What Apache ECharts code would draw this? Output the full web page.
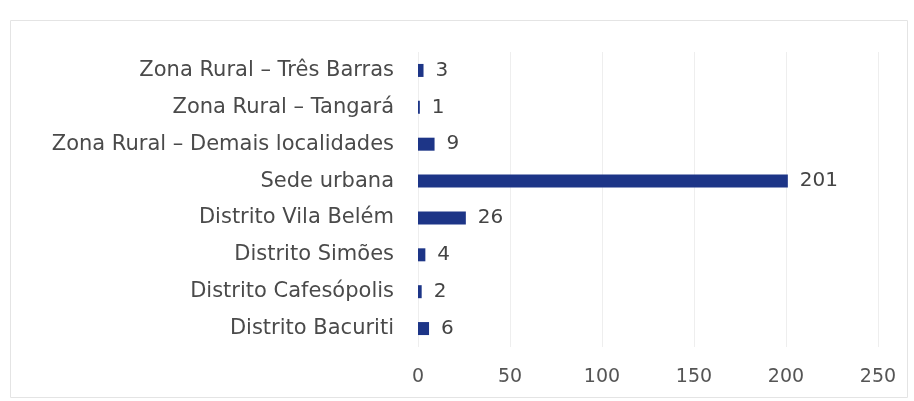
<!DOCTYPE html>
<html>
<head>
<meta charset="utf-8">
<script src="https://cdn.jsdelivr.net/npm/echarts@6/dist/echarts.min.js"></script>
<style>
html, body { margin: 0; padding: 0; background: #fff; }
#chart { width: 914px; height: 401px; }
</style>
</head>
<body>
<div id="chart"></div>
<script>
// categorias (de baixo para cima)
var categorias = ['Distrito Bacuriti', 'Distrito Cafesópolis', 'Distrito Simões', 'Distrito Vila Belém',
	'Sede urbana', 'Zona Rural – Demais localidades', 'Zona Rural – Tangará', 'Zona Rural – Três Barras'];
var valores = [6, 2, 4, 26, 201, 9, 1, 3];
var ticksX = [0, 50, 100, 150, 200, 250];

var myChart = echarts.init(document.getElementById('chart'));
var fonte = '"DejaVu Sans", sans-serif';

myChart.setOption({
	animation: false,
	graphic: [{
		type: 'rect',
		left: 8, top: 18,
		shape: { width: 897, height: 377 },
		style: { fill: 'none', stroke: '#e4e4e4', lineWidth: 1 }
	}],
	grid: {
		left: 418,
		right: 36,
		top: 52,
		bottom: 54
	},
	xAxis: {
		type: 'value',
		min: ticksX[0],
		max: ticksX[ticksX.length - 1],
		interval: 50,
		axisLine: { show: false },
		axisTick: { show: false },
		axisLabel: { color: '#555', fontSize: 19, fontFamily: fonte, margin: 21 },
		splitLine: { lineStyle: { color: '#eeeeee' } }
	},
	yAxis: {
		type: 'category',
		data: categorias,
		axisLine: { show: false },
		axisTick: { show: false },
		axisLabel: { color: '#4a4a4a', fontSize: 21, fontFamily: fonte, margin: 24 }
	},
	series: [{
		type: 'bar',
		data: valores,
		barWidth: 13,
		itemStyle: { color: '#1d3587' },
		label: {
			show: true,
			position: 'right',
			distance: 12,
			color: '#444',
			fontSize: 20,
			fontFamily: fonte
		}
	}]
});
</script>
</body>
</html>
